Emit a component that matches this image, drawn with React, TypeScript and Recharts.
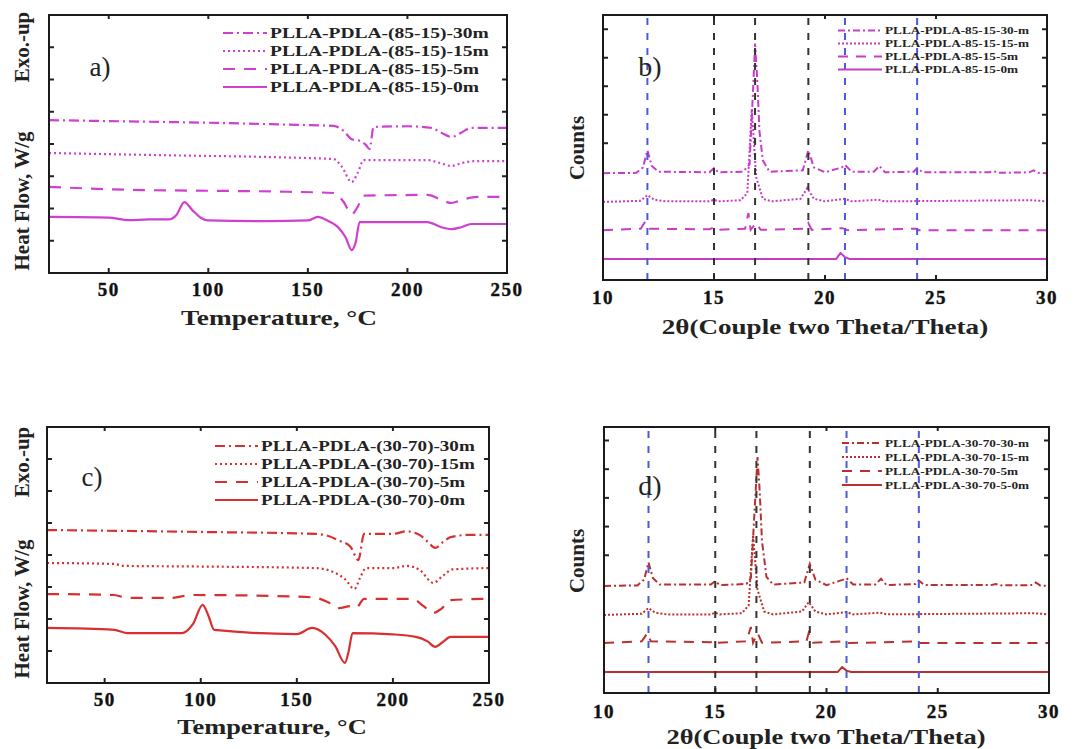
import React from "react";
import { LineChart, Line, XAxis, YAxis, ReferenceLine, Legend } from "recharts";

type Pt = [number, number];

const serif = '"Liberation Serif", "Times New Roman", serif';

// DSC, PLLA-PDLA (85-15): [temperature °C, heat flow (arb. offset units)]
const dsc8515_30m: Pt[] = [[20, 4.74], [60, 4.7], [100, 4.66], [140, 4.6], [163, 4.56], [168, 4.4], [172, 4.15], [176, 4.1], [179, 3.98], [181, 3.84], [183, 4.53], [200, 4.55], [212, 4.5], [217, 4.35], [222, 4.22], [227, 4.35], [232, 4.5], [250, 4.5]];
const dsc8515_15m: Pt[] = [[20, 3.72], [80, 3.65], [140, 3.58], [163, 3.53], [167, 3.3], [172, 2.82], [175, 3.1], [178, 3.5], [210, 3.5], [216, 3.42], [222, 3.32], [228, 3.42], [234, 3.47], [250, 3.47]];
const dsc8515_5m: Pt[] = [[20, 2.67], [60, 2.58], [100, 2.55], [140, 2.52], [163, 2.48], [168, 2.2], [172, 1.82], [175, 2.05], [178, 2.4], [210, 2.42], [216, 2.3], [222, 2.17], [228, 2.28], [235, 2.36], [250, 2.36]];
const dsc8515_0m: Pt[] = [[20, 1.74], [50, 1.72], [60, 1.64], [70, 1.66], [80, 1.66], [84, 1.8], [88, 2.2], [92, 1.95], [96, 1.72], [100, 1.63], [130, 1.61], [150, 1.63], [155, 1.74], [160, 1.62], [165, 1.43], [169, 1.1], [172, 0.71], [174, 0.95], [176, 1.58], [210, 1.58], [217, 1.42], [222, 1.36], [227, 1.42], [232, 1.52], [250, 1.52]];

// DSC, PLLA-PDLA (30-70)
const dsc3070_30m: Pt[] = [[20, 4.78], [100, 4.72], [160, 4.66], [166, 4.6], [172, 4.45], [178, 4.25], [182, 3.84], [185, 4.66], [200, 4.66], [207, 4.74], [214, 4.62], [218, 4.42], [222, 4.22], [226, 4.4], [230, 4.56], [240, 4.63], [250, 4.63]];
const dsc3070_15m: Pt[] = [[20, 3.75], [55, 3.72], [60, 3.66], [100, 3.64], [160, 3.59], [170, 3.44], [175, 3.25], [180, 2.94], [183, 3.3], [186, 3.59], [200, 3.59], [207, 3.66], [214, 3.53], [221, 3.13], [226, 3.35], [231, 3.55], [250, 3.59]];
const dsc3070_5m: Pt[] = [[20, 2.78], [55, 2.75], [62, 2.66], [85, 2.66], [95, 2.75], [150, 2.7], [160, 2.66], [167, 2.5], [172, 2.34], [178, 2.4], [181, 2.36], [185, 2.63], [210, 2.63], [216, 2.4], [221, 2.19], [225, 2.31], [230, 2.59], [250, 2.63]];
const dsc3070_0m: Pt[] = [[20, 1.72], [55, 1.66], [62, 1.56], [90, 1.56], [96, 1.85], [101, 2.44], [104, 2.1], [107, 1.66], [150, 1.53], [158, 1.72], [165, 1.5], [170, 1.15], [175, 0.63], [177, 1.0], [179, 1.56], [200, 1.52], [212, 1.44], [218, 1.3], [222, 1.13], [226, 1.28], [230, 1.44], [250, 1.44]];

// XRD, PLLA-PDLA 85-15: [2θ, counts (arb. offset units)]
const xrd8515_30m: Pt[] = [[10, 3.75], [11.5, 3.76], [11.8, 3.95], [12.0, 4.55], [12.2, 4.0], [12.5, 3.8], [14.8, 3.78], [15.0, 3.93], [15.2, 3.78], [16.3, 3.8], [16.6, 4.05], [16.75, 6.5], [16.85, 8.3], [16.95, 7.0], [17.05, 5.2], [17.2, 4.2], [17.5, 3.8], [19.0, 3.85], [19.25, 4.55], [19.5, 3.95], [20.0, 3.78], [20.75, 3.95], [20.9, 4.04], [21.2, 3.8], [22.2, 3.8], [22.45, 4.0], [22.7, 3.78], [24.0, 3.8], [24.15, 3.93], [24.4, 3.78], [27.4, 3.78], [27.6, 3.82], [27.8, 3.76], [29.2, 3.78], [29.4, 3.85], [29.6, 3.76], [30, 3.75]];
const xrd8515_15m: Pt[] = [[10, 2.74], [11.7, 2.78], [12.0, 2.98], [12.3, 2.82], [12.8, 2.76], [14.8, 2.76], [15.0, 2.82], [15.2, 2.76], [16.2, 2.8], [16.5, 3.05], [16.7, 6.0], [16.9, 3.6], [17.2, 2.85], [17.6, 2.76], [18.9, 2.85], [19.2, 3.23], [19.5, 2.85], [20.0, 2.76], [20.9, 2.85], [21.2, 2.76], [22.4, 2.82], [22.7, 2.76], [29.3, 2.8], [30, 2.76]];
const xrd8515_5m: Pt[] = [[10, 1.75], [11.7, 1.8], [11.9, 2.05], [12.1, 1.8], [14.8, 1.78], [15.0, 1.85], [15.1, 1.76], [16.4, 1.8], [16.55, 2.35], [16.65, 1.76], [16.9, 2.0], [17.1, 1.76], [19.1, 1.8], [19.25, 2.0], [19.4, 1.76], [20.8, 1.82], [21.0, 1.75], [24.1, 1.8], [24.2, 1.75], [30, 1.75]];
const xrd8515_0m: Pt[] = [[10, 0.74], [20.5, 0.74], [20.7, 0.95], [20.9, 0.8], [21.1, 0.74], [30, 0.74]];

// XRD, PLLA-PDLA 30-70
const xrd3070_30m: Pt[] = [[10, 3.73], [11.5, 3.75], [11.8, 3.95], [12.0, 4.55], [12.2, 4.0], [12.5, 3.78], [14.8, 3.78], [15.0, 3.9], [15.2, 3.76], [16.4, 3.8], [16.6, 4.0], [16.8, 6.8], [16.9, 8.22], [17.0, 7.0], [17.1, 5.3], [17.3, 4.05], [17.6, 3.78], [19.0, 3.85], [19.25, 4.5], [19.5, 3.95], [20.0, 3.76], [20.75, 3.95], [20.9, 4.0], [21.2, 3.78], [22.2, 3.78], [22.45, 3.98], [22.7, 3.76], [24.0, 3.8], [24.15, 3.92], [24.4, 3.76], [27.4, 3.76], [27.6, 3.8], [27.8, 3.75], [29.2, 3.76], [29.4, 3.85], [29.6, 3.75], [30, 3.73]];
const xrd3070_15m: Pt[] = [[10, 2.72], [11.7, 2.76], [12.0, 2.96], [12.3, 2.8], [12.8, 2.74], [14.8, 2.74], [15.0, 2.8], [15.2, 2.74], [16.2, 2.78], [16.5, 3.05], [16.7, 5.5], [16.9, 3.6], [17.2, 2.84], [17.6, 2.74], [18.9, 2.84], [19.2, 3.17], [19.5, 2.84], [20.0, 2.74], [20.9, 2.82], [21.2, 2.74], [22.4, 2.8], [22.7, 2.74], [29.3, 2.78], [30, 2.74]];
const xrd3070_5m: Pt[] = [[10, 1.74], [11.7, 1.8], [11.95, 2.09], [12.1, 1.8], [14.8, 1.77], [15.0, 1.85], [15.1, 1.75], [16.4, 1.8], [16.6, 2.3], [16.7, 1.75], [16.9, 2.09], [17.1, 1.75], [19.1, 1.8], [19.2, 2.09], [19.4, 1.75], [20.8, 1.8], [21.0, 1.74], [24.1, 1.8], [24.2, 1.74], [30, 1.74]];
const xrd3070_0m: Pt[] = [[10, 0.73], [20.5, 0.73], [20.7, 0.9], [20.9, 0.78], [21.1, 0.73], [30, 0.73]];

const tempTicks = [50, 100, 150, 200, 250];
const thetaTicks = [10, 15, 20, 25, 30];
const dscYTicks = [1, 2, 3, 4, 5, 6, 7];
const xrdYTicks = [4.8, 5.8, 6.8, 7.8, 8.8];
const blueRefs = [12, 20.9, 24.15];
const blackRefs = [15, 16.85, 19.25];

const names8515 = ["PLLA-PDLA-(85-15)-30m", "PLLA-PDLA-(85-15)-15m", "PLLA-PDLA-(85-15)-5m", "PLLA-PDLA-(85-15)-0m"];
const names3070 = ["PLLA-PDLA-(30-70)-30m", "PLLA-PDLA-(30-70)-15m", "PLLA-PDLA-(30-70)-5m", "PLLA-PDLA-(30-70)-0m"];
const namesXrd8515 = ["PLLA-PDLA-85-15-30-m", "PLLA-PDLA-85-15-15-m", "PLLA-PDLA-85-15-5m", "PLLA-PDLA-85-15-0m"];
const namesXrd3070 = ["PLLA-PDLA-30-70-30-m", "PLLA-PDLA-30-70-15-m", "PLLA-PDLA-30-70-5m", "PLLA-PDLA-30-70-5-0m"];

const dscDashes = ["10 4 2 4", "2 3", "12 9", undefined];
const xrdDashes = ["7 3 2 3", "2 2", "10 8", undefined];

// axis band sizes; margins are reduced by these so the frame lands where the reference has it
const AX_H = 30;
const AX_TOP = 10;
const AX_W = 10;

type LegendOpts = {
  left: number;
  top: number;
  rowHeight: number;
  sampleWidth: number;
  fontSize: number;
  stretch: number;
};

type PanelProps = {
  left: number;
  top: number;
  width: number;
  height: number;
  frameBox: { top: number; right: number; bottom: number; left: number };
  xDomain: [number, number];
  xTicks: number[];
  yDomain: [number, number];
  yTicks: number[];
  series: Pt[][];
  names: string[];
  dashes: (string | undefined)[];
  color: string;
  strokeWidth: number;
  curve: "monotone" | "linear";
  tickMargin: number;
  refs: boolean;
  legend: LegendOpts;
};

function SeriesLegend({ names, dashes, color, strokeWidth, opts }: { names: string[]; dashes: (string | undefined)[]; color: string; strokeWidth: number; opts: LegendOpts }) {
  return (
    <div style={{ fontFamily: serif, fontWeight: "bold", fontSize: opts.fontSize, color: "#222" }}>
      {names.map((n, i) => (
        <div key={n} style={{ display: "flex", alignItems: "center", height: opts.rowHeight, whiteSpace: "nowrap" }}>
          <svg width={opts.sampleWidth} height={opts.rowHeight} style={{ flex: "none" }}>
            <line x1={0} x2={opts.sampleWidth} y1={opts.rowHeight / 2} y2={opts.rowHeight / 2} stroke={color} strokeWidth={strokeWidth} strokeDasharray={dashes[i]} />
          </svg>
          <span style={{ display: "inline-block", marginLeft: 3, transform: `scaleX(${opts.stretch})`, transformOrigin: "left center" }}>{n}</span>
        </div>
      ))}
    </div>
  );
}

const tickStroke = { stroke: "#222", strokeWidth: 2 };

const TickLabel = (props: any) => (
  <text
    x={props.x}
    y={props.y}
    dy="0.71em"
    textAnchor="middle"
    fill="#111"
    stroke="#111"
    strokeWidth={0.4}
    fontFamily={serif}
    fontWeight={700}
    fontSize={19}
    letterSpacing={1.5}
  >
    {props.payload.value}
  </text>
);

// the box round each plot, as four solid bars
function PlotBox({ x, y, w, h }: { x: number; y: number; w: number; h: number }) {
  const t = 2;
  const bar = { position: "absolute" as const, background: "#1a1a1a", pointerEvents: "none" as const, zIndex: 10 };
  return (
    <>
      <div style={{ ...bar, left: x - 1, top: y - 1, width: w + t, height: t }} />
      <div style={{ ...bar, left: x - 1, top: y + h - 1, width: w + t, height: t }} />
      <div style={{ ...bar, left: x - 1, top: y - 1, width: t, height: h + t }} />
      <div style={{ ...bar, left: x + w - 1, top: y - 1, width: t, height: h + t }} />
    </>
  );
}

function Panel(p: PanelProps) {
  const m = {
    top: p.frameBox.top - AX_TOP,
    right: p.frameBox.right - AX_W,
    bottom: p.frameBox.bottom - AX_H,
    left: p.frameBox.left - AX_W,
  };
  const fb = p.frameBox;
  const fw = p.width - fb.left - fb.right;
  const fh = p.height - fb.top - fb.bottom;
  return (
    <div style={{ position: "absolute", left: p.left, top: p.top, width: p.width, height: p.height }}>
      <LineChart width={p.width} height={p.height} margin={m}>
        <XAxis
          xAxisId="bottom"
          type="number"
          dataKey="x"
          domain={p.xDomain}
          ticks={p.xTicks}
          interval={0}
          allowDataOverflow
          height={AX_H}
          tickSize={-5}
          tickMargin={p.tickMargin}
          axisLine={false}
          tickLine={tickStroke}
          tick={<TickLabel />}
        />
        <XAxis xAxisId="top" orientation="top" type="number" dataKey="x" domain={p.xDomain} ticks={p.xTicks} interval={0} allowDataOverflow height={AX_TOP} tickSize={-4} axisLine={false} tickLine={tickStroke} tickFormatter={() => ""} />
        <YAxis yAxisId="left" type="number" domain={p.yDomain} ticks={p.yTicks} interval={0} allowDataOverflow width={AX_W} tickSize={-5} axisLine={false} tickLine={tickStroke} tickFormatter={() => ""} />
        <YAxis yAxisId="right" orientation="right" type="number" domain={p.yDomain} ticks={p.yTicks} interval={0} allowDataOverflow width={AX_W} tickSize={-5} axisLine={false} tickLine={tickStroke} tickFormatter={() => ""} />
        {p.series.map((s, i) => (
          <Line
            key={p.names[i]}
            xAxisId="bottom"
            yAxisId="left"
            data={s.map(([x, y]) => ({ x, y }))}
            dataKey="y"
            type={p.curve}
            stroke={p.color}
            strokeWidth={p.strokeWidth}
            strokeDasharray={p.dashes[i]}
            dot={false}
            activeDot={false}
            isAnimationActive={false}
          />
        ))}
        {p.refs && blueRefs.map((v) => (
          <ReferenceLine key={"b" + v} x={v} xAxisId="bottom" yAxisId="left" stroke="#4a5ad8" strokeWidth={2} strokeDasharray="7 8" />
        ))}
        {p.refs && blackRefs.map((v) => (
          <ReferenceLine key={"k" + v} x={v} xAxisId="bottom" yAxisId="left" stroke="#333" strokeWidth={2} strokeDasharray="7 8" />
        ))}
        <Legend
          layout="vertical"
          align="center"
          verticalAlign="middle"
          wrapperStyle={{ left: p.legend.left, top: p.legend.top, width: "auto", height: "auto" }}
          content={() => <SeriesLegend names={p.names} dashes={p.dashes} color={p.color} strokeWidth={p.strokeWidth} opts={p.legend} />}
        />
      </LineChart>
      <PlotBox x={fb.left} y={fb.top} w={fw} h={fh} />
    </div>
  );
}

function Txt({ x, y, children, size, weight = "bold", stretch = 1, rotate = false }: { x: number; y: number; children: React.ReactNode; size: number; weight?: string; stretch?: number; rotate?: boolean }) {
  const t = rotate ? "translate(-50%,-50%) rotate(-90deg)" : `translate(-50%,-50%) scaleX(${stretch})`;
  return (
    <div style={{ position: "absolute", left: x, top: y, transform: t, whiteSpace: "nowrap", fontFamily: serif, fontWeight: weight as any, fontSize: size, color: "#222", lineHeight: 1 }}>
      {children}
    </div>
  );
}

export default function App() {
  return (
    <div style={{ position: "absolute", left: 0, top: 0, width: 1082, height: 749, background: "#fff", overflow: "hidden" }}>
      <Panel
        left={0} top={0} width={540} height={340}
        frameBox={{ top: 15, right: 33, bottom: 67, left: 49 }}
        xDomain={[20, 250]} xTicks={tempTicks} yDomain={[0, 8]} yTicks={dscYTicks}
        series={[dsc8515_30m, dsc8515_15m, dsc8515_5m, dsc8515_0m]} names={names8515} dashes={dscDashes}
        color="#d040d0" strokeWidth={2.2} curve="monotone" tickMargin={15} refs={false}
        legend={{ left: 223, top: 24, rowHeight: 18, sampleWidth: 44, fontSize: 15, stretch: 1.3 }}
      />
      <Panel
        left={540} top={0} width={542} height={345}
        frameBox={{ top: 15, right: 35, bottom: 65, left: 63 }}
        xDomain={[10, 30]} xTicks={thetaTicks} yDomain={[0, 9.3]} yTicks={xrdYTicks}
        series={[xrd8515_30m, xrd8515_15m, xrd8515_5m, xrd8515_0m]} names={namesXrd8515} dashes={xrdDashes}
        color="#c83cc8" strokeWidth={2} curve="linear" tickMargin={16} refs
        legend={{ left: 298, top: 24, rowHeight: 13, sampleWidth: 44, fontSize: 10.5, stretch: 1.26 }}
      />
      <Panel
        left={0} top={400} width={540} height={349}
        frameBox={{ top: 27, right: 51, bottom: 66, left: 47 }}
        xDomain={[20, 250]} xTicks={tempTicks} yDomain={[0, 8]} yTicks={dscYTicks}
        series={[dsc3070_30m, dsc3070_15m, dsc3070_5m, dsc3070_0m]} names={names3070} dashes={dscDashes}
        color="#d83030" strokeWidth={2.2} curve="monotone" tickMargin={15} refs={false}
        legend={{ left: 215, top: 37, rowHeight: 18, sampleWidth: 43, fontSize: 15, stretch: 1.27 }}
      />
      <Panel
        left={540} top={400} width={542} height={349}
        frameBox={{ top: 27, right: 33, bottom: 56, left: 64 }}
        xDomain={[10, 30]} xTicks={thetaTicks} yDomain={[0, 9.27]} yTicks={xrdYTicks}
        series={[xrd3070_30m, xrd3070_15m, xrd3070_5m, xrd3070_0m]} names={namesXrd3070} dashes={xrdDashes}
        color="#b83030" strokeWidth={2} curve="linear" tickMargin={17} refs
        legend={{ left: 302, top: 36, rowHeight: 14, sampleWidth: 40, fontSize: 10.5, stretch: 1.26 }}
      />

      <Txt x={100} y={67} size={27} weight="normal">a)</Txt>
      <Txt x={650} y={67} size={28} weight="normal">b)</Txt>
      <Txt x={92} y={477} size={27} weight="normal">c)</Txt>
      <Txt x={650} y={486} size={28} weight="normal">d)</Txt>

      <Txt x={279} y={318} size={22} stretch={1.24}>Temperature, °C</Txt>
      <Txt x={825} y={327} size={22} stretch={1.23}>2θ(Couple two Theta/Theta)</Txt>
      <Txt x={272} y={727} size={22} stretch={1.2}>Temperature, °C</Txt>
      <Txt x={826} y={737} size={21} stretch={1.26}>2θ(Couple two Theta/Theta)</Txt>

      <Txt x={22} y={201} size={21} rotate>Heat Flow, W/g</Txt>
      <Txt x={22} y={47} size={21} rotate>Exo.-up</Txt>
      <Txt x={22} y={609} size={21} rotate>Heat Flow, W/g</Txt>
      <Txt x={22} y={462} size={21} rotate>Exo.-up</Txt>
      <Txt x={577} y={148} size={21} rotate>Counts</Txt>
      <Txt x={577} y={561} size={21} rotate>Counts</Txt>
    </div>
  );
}
